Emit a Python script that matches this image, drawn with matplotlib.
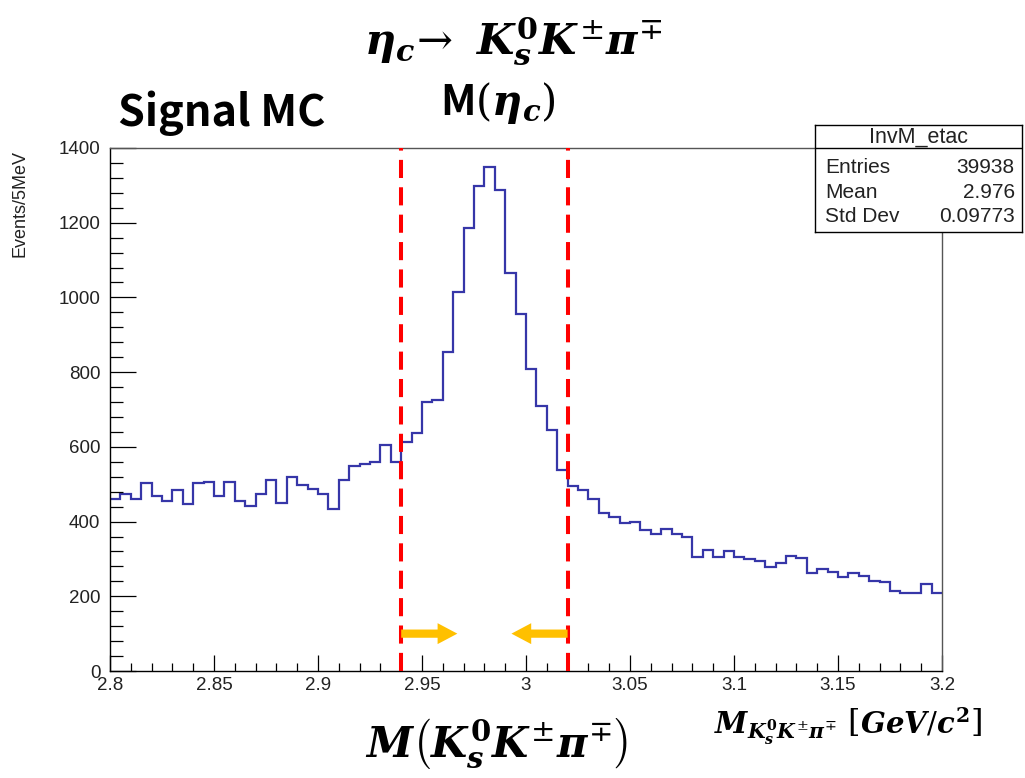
import numpy as np
import matplotlib
matplotlib.use("Agg")
import matplotlib.pyplot as plt
from matplotlib.patches import FancyArrow

# histogram InvM_etac, 5 MeV bins from 2.8 to 3.2 GeV
bin_lo = 2.8
bin_hi = 3.2
n_bins = 80
counts = [460, 474, 460, 502, 468, 456, 484, 446, 502, 507,
          468, 507, 455, 442, 474, 511, 449, 520, 498, 487,
          474, 433, 511, 548, 554, 559, 604, 560, 613, 636,
          719, 725, 855, 1014, 1187, 1297, 1350, 1288, 1065, 955,
          808, 710, 645, 538, 495, 485, 460, 424, 413, 395,
          400, 377, 367, 381, 367, 358, 306, 324, 306, 321,
          306, 300, 295, 279, 288, 308, 302, 261, 273, 266,
          251, 261, 255, 241, 237, 215, 210, 210, 233, 210]

# signal window
cut_lo = 2.94
cut_hi = 3.02
arrow_len = 0.027
arrow_y = 100

stat_names = ["Entries", "Mean", "Std Dev"]
stat_values = ["39938", "2.976", "0.09773"]
hist_name = "InvM_etac"

plt.rcParams['font.family'] = ['Liberation Sans', 'DejaVu Sans']
plt.rcParams['mathtext.fontset'] = 'custom'
plt.rcParams['mathtext.it'] = 'DejaVu Serif:bold:italic'
plt.rcParams['mathtext.rm'] = 'DejaVu Serif'
plt.rcParams['mathtext.bf'] = 'DejaVu Serif:bold'
plt.rcParams['mathtext.sf'] = 'Noto Sans CJK JP:bold'

fig = plt.figure(figsize=(10.25, 7.78), dpi=100)
ax = fig.add_axes([110/1025, 1-671/778, 832/1025, 523/778])

edges = np.linspace(bin_lo, bin_hi, n_bins + 1)
ax.stairs(counts, edges, baseline=None, color='#3636a8', lw=1.6)

ax.set_xlim(bin_lo, bin_hi)
ax.set_ylim(0, 1400)
ax.set_xticks(np.arange(2.8, 3.201, 0.05))
ax.set_xticklabels(["2.8", "2.85", "2.9", "2.95", "3", "3.05", "3.1", "3.15", "3.2"])
ax.set_xticks(np.arange(2.8, 3.201, 0.01), minor=True)
ax.set_yticks(np.arange(0, 1401, 200))
ax.set_yticks(np.arange(0, 1401, 40), minor=True)
ax.tick_params(axis='x', which='major', direction='in', length=11.5, width=0.9, pad=4,
               labelsize=13.5, labelcolor='#222222')
ax.tick_params(axis='x', which='minor', direction='in', length=5.8, width=0.9)
ax.tick_params(axis='y', which='major', direction='in', length=19, width=0.9, pad=7,
               labelsize=13.5, labelcolor='#222222')
ax.tick_params(axis='y', which='minor', direction='in', length=9.5, width=0.9)
for s in ax.spines.values():
    s.set_linewidth(1.0)
ax.spines['top'].set_color('#555555')
ax.spines['right'].set_color('#555555')

fig.text(20/1025, 1-150/778, "Events/5MeV", rotation=90, ha='center', va='top',
         fontsize=13, color='#222222')

# selection window
for c in (cut_lo, cut_hi):
    ax.axvline(c, color='#ff0000', lw=2.9, ls=(0, (4.5, 2.3)), zorder=4)

for x0, d in ((cut_lo, arrow_len), (cut_hi, -arrow_len)):
    ax.add_patch(FancyArrow(x0, arrow_y, d, 0, width=22, head_width=56,
                            head_length=0.0095, length_includes_head=True,
                            color='#ffc000', lw=0, zorder=5))

# stats box
sb = fig.add_axes([815/1025, 1-232/778, 207/1025, 107/778])
sb.set_xticks([])
sb.set_yticks([])
sb.set_xlim(0, 1)
sb.set_ylim(0, 1)
for s in sb.spines.values():
    s.set_linewidth(1.0)
sb.axhline(0.785, color='black', lw=1.0)
sb.text(0.5, 0.89, hist_name, ha='center', va='center', fontsize=15.5, color='#222222')
for i, (n, v) in enumerate(zip(stat_names, stat_values)):
    yy = 0.605 - i * 0.232
    sb.text(0.05, yy, n, ha='left', va='center', fontsize=15, color='#222222')
    sb.text(0.965, yy, v, ha='right', va='center', fontsize=15, color='#222222')

# slide annotations
fig.text(513/1025, 1-42/778, r'$\eta_c\!\rightarrow\ K_s^{\mathbf{0}}K^{\pm}\pi^{\mp}$',
         ha='center', va='center', fontsize=31)
fig.text(498/1025, 1-103/778, r'$\mathsf{M}(\eta_c)$',
         ha='center', va='center', fontsize=30)
fig.text(118/1025, 1-113/778, "Signal MC", ha='left', va='center',
         fontsize=31, fontweight='bold', family=['Noto Sans CJK JP', 'DejaVu Sans'])
fig.text(497/1025, 1-743/778, r'$M\left(K_s^{\mathbf{0}}K^{\pm}\pi^{\mp}\right)$',
         ha='center', va='center', fontsize=30)
fig.text(848/1025, 1-725/778, r'$M_{K_s^{\mathbf{0}}K^{\pm}\pi^{\mp}}\ \left[GeV/c^{\mathbf{2}}\right]$',
         ha='center', va='center', fontsize=21)

fig.savefig("out.png", dpi=100)
